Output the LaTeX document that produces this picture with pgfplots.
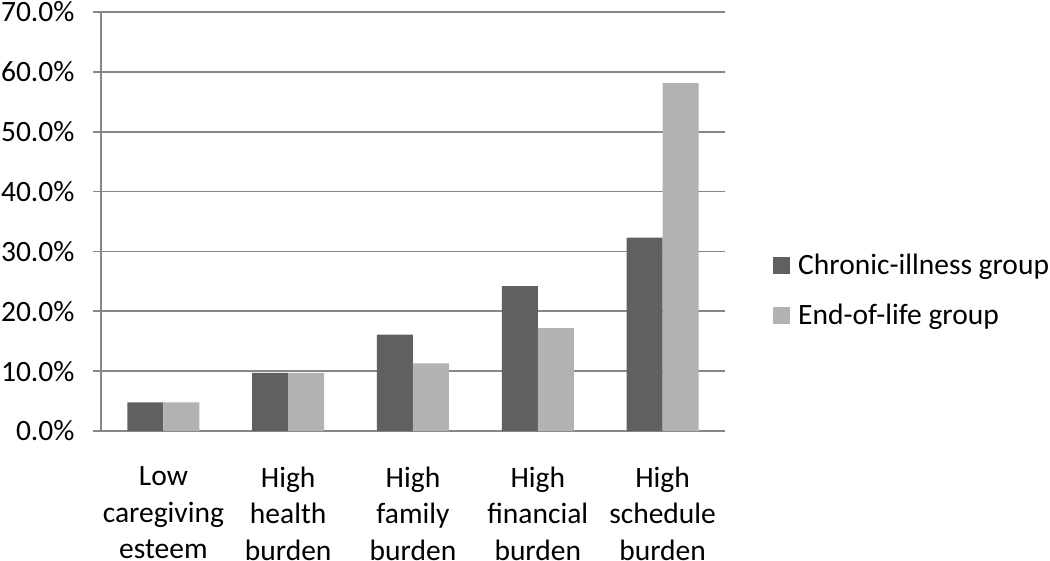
\documentclass[border=0pt]{standalone}
\usepackage{pgfplots}
\pgfplotsset{compat=1.18}
\usepackage{fontspec}
\setmainfont{Carlito}
\definecolor{darkbar}{HTML}{606060}
\definecolor{lightbar}{HTML}{B2B2B2}
\definecolor{axgray}{HTML}{878787}
\begin{document}
\begin{tikzpicture}
\begin{axis}[
  scale only axis,
  width=624pt, height=419pt,
  ybar=0pt, bar width=36pt,
  xmin=-0.5, xmax=4.5,
  ymin=0, ymax=70,
  xtick={0,1,2,3,4},
  xticklabels={Low\\caregiving\\esteem, High\\health\\burden, High\\family\\burden, High\\financial\\burden, High\\schedule\\burden},
  x tick style={draw=none},
  extra x ticks={-0.5,0.5,1.5,2.5,3.5,4.5},
  extra x tick labels={},
  extra x tick style={major tick length=8pt, tick style={draw=axgray, line width=1.6pt}, grid=none},
  ytick={0,10,...,70},
  yticklabel={\pgfmathprintnumber[fixed,fixed zerofill,precision=1]{\tick}\%},
  /pgf/number format/assume math mode=true,
  tick align=outside, tick pos=left,
  major tick length=8pt,
  y tick style={draw=axgray, line width=1.6pt},
  ymajorgrids,
  grid style={draw=axgray, line width=1.6pt},
  axis line style={draw=axgray, line width=2pt},
  axis x line*=bottom, axis y line*=left,
  tick label style={font=\fontsize{29.5}{36.7}\selectfont, text=black},
  xticklabel style={align=center, yshift=-24pt},
  yticklabel style={xshift=-15pt},
  legend style={at={(rel axis cs:1.077,0.336)}, anchor=west, draw=none, fill=none,
    font=\fontsize{29.5}{34}\selectfont, row sep=28pt, inner sep=0pt,
    nodes={inner sep=0pt, text=black, anchor=west}},
  legend cell align=left,
  legend image code/.code={\fill[#1] (0pt,-8.5pt) rectangle (17pt,8.5pt);},
  clip=false,
]
\addplot[fill=darkbar, draw=none] coordinates {(0,4.8) (1,9.7) (2,16.1) (3,24.2) (4,32.3)};
\addlegendentry{\hspace{8pt}Chronic-illness group}
\addplot[fill=lightbar, draw=none] coordinates {(0,4.8) (1,9.7) (2,11.3) (3,17.2) (4,58.1)};
\addlegendentry{\hspace{8pt}End-of-life group}
\coordinate (bl) at (rel axis cs:0,0);
\end{axis}
\pgfresetboundingbox
\path (bl) ++(-101pt,-129pt) rectangle ++(1050pt,560pt);
\end{tikzpicture}
\end{document}
